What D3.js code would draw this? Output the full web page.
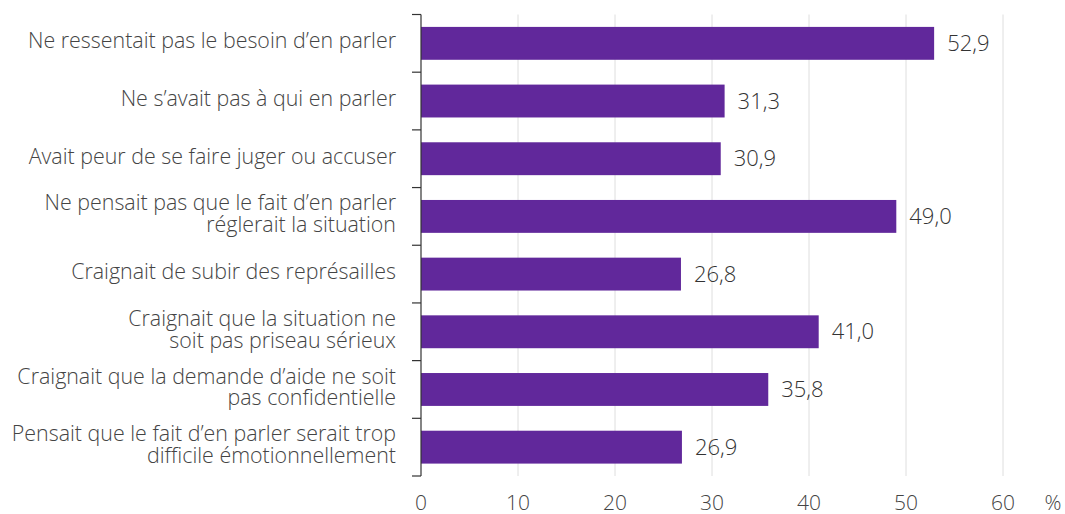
<!DOCTYPE html>
<html>
<head>
<meta charset="utf-8">
<script src="https://cdn.jsdelivr.net/npm/d3@7"></script>
<style>
	body { margin: 0; background: #fff; }
	text { font-family: "Open Sans", sans-serif; font-weight: 300; }
</style>
</head>
<body>
<div id="chart_container"></div>
<script>
// categories (each label split into its lines) and values in %
var categories = [
	["Ne ressentait pas le besoin d\u2019en parler"],
	["Ne s\u2019avait pas \u00e0 qui en parler"],
	["Avait peur de se faire juger ou accuser"],
	["Ne pensait pas que le fait d\u2019en parler", "r\u00e9glerait la situation"],
	["Craignait de subir des repr\u00e9sailles"],
	["Craignait que la situation ne", "soit pas priseau s\u00e9rieux"],
	["Craignait que la demande d\u2019aide ne soit", "pas confidentielle"],
	["Pensait que le fait d\u2019en parler serait trop", "difficile \u00e9motionnellement"]
];
var values = [52.9, 31.3, 30.9, 49.0, 26.8, 41.0, 35.8, 26.9];
var xTicks = [0, 10, 20, 30, 40, 50, 60];

var width = 1065, height = 514;
var plot_left = 421, plot_right = 1003, plot_top = 14.5, plot_bottom = 476;
var bar_color = "#61289b";

var svgContainer = d3.select("#chart_container").append("svg")
	.attr("width", width)
	.attr("height", height);

var x = d3.scaleLinear().domain([0, 60]).range([plot_left, plot_right]);
var y = d3.scaleBand().domain(d3.range(categories.length)).range([plot_top, plot_bottom]).paddingInner(0.43).paddingOuter(0.215);

// gridlines
svgContainer.selectAll(".grid").data(xTicks.slice(1)).enter().append("line")
	.attr("x1", function(d){ return x(d); })
	.attr("x2", function(d){ return x(d); })
	.attr("y1", plot_top)
	.attr("y2", plot_bottom)
	.attr("stroke", "#dedede")
	.attr("stroke-width", 1);

// bars
svgContainer.selectAll(".bar").data(values).enter().append("rect")
	.attr("x", x(0))
	.attr("y", function(d, i){ return y(i); })
	.attr("width", function(d){ return x(d) - x(0); })
	.attr("height", y.bandwidth())
	.attr("fill", bar_color);

// value labels
svgContainer.selectAll(".val").data(values).enter().append("text")
	.attr("x", function(d){ return x(d) + 13; })
	.attr("y", function(d, i){ return y(i) + y.bandwidth()/2; })
	.attr("dy", "0.35em")
	.attr("font-size", 22)
	.attr("fill", "#333")
	.text(function(d){ return d.toFixed(1).replace(".", ","); });

// y axis line with ticks at band boundaries
var step = (plot_bottom - plot_top) / categories.length;
svgContainer.append("line")
	.attr("x1", plot_left).attr("x2", plot_left)
	.attr("y1", plot_top).attr("y2", plot_bottom)
	.attr("stroke", "#333").attr("stroke-width", 1.2);
svgContainer.selectAll(".ytick").data(d3.range(categories.length + 1)).enter().append("line")
	.attr("x1", plot_left - 9).attr("x2", plot_left)
	.attr("y1", function(d){ return plot_top + d*step; })
	.attr("y2", function(d){ return plot_top + d*step; })
	.attr("stroke", "#333").attr("stroke-width", 1.2);

// category labels
var lineH = 21.7;
categories.forEach(function(lines, i){
	var cy = y(i) + y.bandwidth()/2;
	var t = svgContainer.append("text")
		.attr("text-anchor", "end")
		.attr("font-size", 21.4)
		.attr("fill", "#444");
	lines.forEach(function(l, j){
		t.append("tspan")
			.attr("x", 396)
			.attr("y", cy + (j - (lines.length - 1)/2)*lineH)
			.attr("dy", "0.23em")
			.text(l);
	});
});

// x axis tick labels
svgContainer.selectAll(".xlab").data(xTicks).enter().append("text")
	.attr("x", function(d){ return x(d); })
	.attr("y", 502.5)
	.attr("dy", "0.35em")
	.attr("text-anchor", "middle")
	.attr("font-size", 21)
	.attr("fill", "#444")
	.text(function(d){ return d; });

svgContainer.append("text")
	.attr("x", 1053)
	.attr("y", 502.5)
	.attr("dy", "0.35em")
	.attr("text-anchor", "middle")
	.attr("font-size", 21)
	.attr("fill", "#444")
	.text("%");
</script>
</body>
</html>
